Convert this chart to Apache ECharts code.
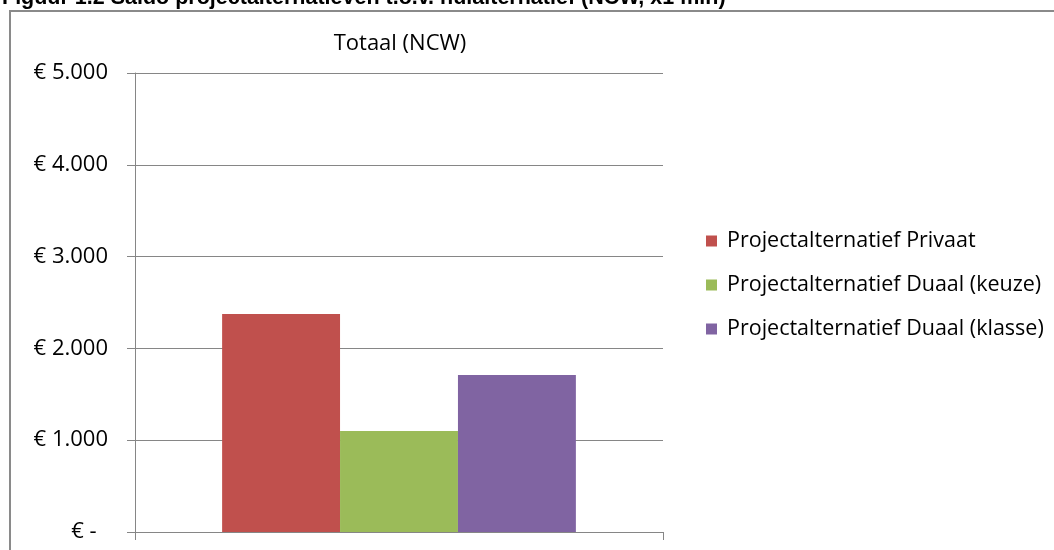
<!DOCTYPE html>
<html>
<head>
<meta charset="utf-8">
<script src="https://cdn.jsdelivr.net/npm/echarts@6/dist/echarts.min.js"></script>
<style>
  html, body { margin: 0; padding: 0; background: #fff; }
  #main { width: 1054px; height: 550px; }
</style>
</head>
<body>
<div id="main"></div>
<script>
// data
const categories = ['Totaal'];
const seriesNames = ['Projectalternatief Privaat', 'Projectalternatief Duaal (keuze)', 'Projectalternatief Duaal (klasse)'];
const privaat = [2375];
const duaalKeuze = [1100];
const duaalKlasse = [1710];
const colors = ['#C0504D', '#9BBB59', '#8064A2'];

const font = '"Open Sans", Lato, sans-serif';

const chart = echarts.init(document.getElementById('main'));

function euro(v) {
  if (v === 0) return '€ -  ';
  return '€ ' + String(v).replace(/\B(?=(\d{3})+(?!\d))/g, '.');
}

const option = {
  animation: false,
  color: colors,
  title: {
    text: 'Totaal (NCW)',
    left: 395,
    textAlign: 'center',
    top: 28,
    textStyle: { fontFamily: font, fontSize: 22, fontWeight: 'normal', color: '#000' }
  },
  graphic: [
    {
      type: 'rect',
      shape: { x: 10, y: 11, width: 1060, height: 560 },
      style: { fill: 'none', stroke: '#8a8a8a', lineWidth: 2 },
      silent: true
    },
    {
      type: 'text',
      x: 2,
      y: -1.5,
      style: {
        text: 'Figuur 1.2 Saldo projectalternatieven t.o.v. nulalternatief (NCW, x1 mln)',
        font: 'bold 21.5px "Liberation Sans", Arial, sans-serif',
        fill: '#000',
        verticalAlign: 'middle'
      }
    }
  ],
  legend: {
    orient: 'vertical',
    left: 701,
    top: 225,
    itemWidth: 11,
    itemHeight: 11,
    itemGap: 22,
    icon: 'rect',
    textStyle: { fontFamily: font, fontSize: 21.5, color: '#000', padding: [0, 0, 0, 5] },
    data: seriesNames
  },
  grid: { left: 135, top: 73, right: 391, bottom: 18, containLabel: false },
  xAxis: {
    type: 'category',
    data: categories,
    axisLine: { lineStyle: { color: '#868686' } },
    axisTick: { show: true, length: 8, lineStyle: { color: '#868686' } },
    axisLabel: { show: false }
  },
  yAxis: {
    type: 'value',
    min: 0,
    max: 5000,
    interval: 1000,
    axisLine: { show: true, lineStyle: { color: '#868686' } },
    axisTick: { show: true, length: 8, lineStyle: { color: '#868686' } },
    splitLine: { lineStyle: { color: '#868686' } },
    axisLabel: { margin: 27, formatter: euro, fontFamily: font, fontSize: 22, color: '#000' }
  },
  series: [
    { name: seriesNames[0], type: 'bar', data: privaat, barGap: '0%', barCategoryGap: '33%' },
    { name: seriesNames[1], type: 'bar', data: duaalKeuze, barGap: '0%', barCategoryGap: '33%' },
    { name: seriesNames[2], type: 'bar', data: duaalKlasse, barGap: '0%', barCategoryGap: '33%' }
  ]
};

chart.setOption(option);
</script>
</body>
</html>
